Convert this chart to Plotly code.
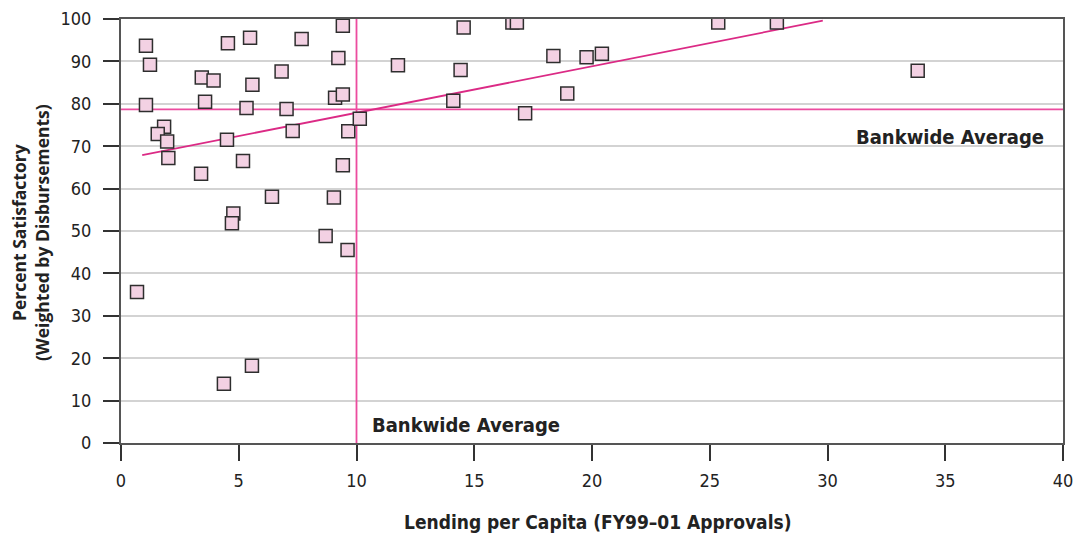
import plotly.graph_objects as go

# Lending per capita (x) and percent satisfactory (y)
lending = [0.68, 1.06, 1.23, 1.06, 1.83, 1.56, 1.96, 2.01, 3.40, 3.43, 3.93, 3.57,
           4.54, 4.50, 4.77, 4.71, 4.37, 5.48, 5.58, 5.33, 5.18, 5.56, 6.82, 7.03,
           7.29, 6.41, 7.67, 9.42, 9.23, 9.09, 9.42, 9.65, 10.14, 9.42, 9.04, 8.69,
           9.62, 11.76, 14.11, 14.42, 14.55, 16.62, 16.81, 17.16, 18.36, 18.95,
           19.77, 20.42, 25.36, 27.85, 33.83]
satisfactory = [35.6, 93.7, 89.2, 79.7, 74.6, 72.9, 71.1, 67.2, 63.5, 86.2, 85.5, 80.5,
                94.3, 71.5, 54.1, 51.8, 14.0, 95.6, 84.5, 79.0, 66.5, 18.2, 87.6, 78.8,
                73.6, 58.1, 95.3, 98.4, 90.8, 81.4, 82.2, 73.5, 76.5, 65.5, 57.9, 48.8,
                45.5, 89.1, 80.7, 88.0, 98.0, 99.2, 99.2, 77.8, 91.3, 82.4, 91.0, 91.8,
                99.2, 99.2, 87.8]

# Fitted trend line end points
trend_x = [0.9, 29.8]
trend_y = [67.9, 99.6]

# Bankwide averages
avg_lending = 10.0
avg_satisfactory = 78.7

x_ticks = [0, 5, 10, 15, 20, 25, 30, 35, 40]
y_ticks = [0, 10, 20, 30, 40, 50, 60, 70, 80, 90, 100]

PINK = "#EC4C9F"
TREND = "#DB2A85"
COND = "DejaVu Sans Condensed, Liberation Sans Narrow, sans-serif"

fig = go.Figure()

fig.add_trace(go.Scatter(
    x=[avg_lending, avg_lending], y=[0, 100], mode="lines",
    line=dict(color=PINK, width=1.8), hoverinfo="skip", showlegend=False))
fig.add_trace(go.Scatter(
    x=[0, 40], y=[avg_satisfactory, avg_satisfactory], mode="lines",
    line=dict(color=PINK, width=1.8), hoverinfo="skip", showlegend=False))
fig.add_trace(go.Scatter(
    x=trend_x, y=trend_y, mode="lines",
    line=dict(color=TREND, width=1.8), hoverinfo="skip", showlegend=False))
fig.add_trace(go.Scatter(
    x=lending, y=satisfactory, mode="markers",
    marker=dict(symbol="square", size=13, color="#F3D1E3",
                line=dict(color="#2E2E2E", width=1.5)),
    showlegend=False))

tick_font = dict(family=COND, size=18, color="#222")

fig.update_xaxes(
    range=[0, 40], tickvals=x_ticks, ticktext=[str(v) for v in x_ticks],
    showgrid=False, zeroline=False, automargin=False,
    showline=True, linecolor="#555", linewidth=2, mirror=True,
    ticks="outside", ticklen=16, tickwidth=1.5, tickcolor="#333",
    tickfont=tick_font, ticklabelstandoff=4)
fig.update_yaxes(
    range=[0, 100], tickvals=y_ticks, ticktext=[str(v) for v in y_ticks],
    showgrid=True, gridcolor="#D3D3D3", gridwidth=1.5, zeroline=False, automargin=False,
    showline=True, linecolor="#555", linewidth=2, mirror=True,
    ticks="outside", ticklen=16, tickwidth=1.5, tickcolor="#333",
    tickfont=tick_font, ticklabelstandoff=8)

label_font = dict(family=COND, size=20, color="#222")

fig.add_annotation(x=14.65, y=4.2, xref="x", yref="y", text="<b>Bankwide Average</b>",
                   showarrow=False, font=label_font, xanchor="center", yanchor="middle")
fig.add_annotation(x=35.2, y=72.2, xref="x", yref="y", text="<b>Bankwide Average</b>",
                   showarrow=False, font=label_font, xanchor="center", yanchor="middle")

fig.add_annotation(x=0.506, y=-0.186, xref="paper", yref="paper",
                   text="<b>Lending per Capita (FY99–01 Approvals)</b>",
                   showarrow=False, font=dict(family=COND, size=19, color="#222"),
                   xanchor="center", yanchor="middle")
fig.add_annotation(x=-0.0966, y=0.495, xref="paper", yref="paper",
                   text="<b>Percent Satisfactory<br>(Weighted by Disbursements)</b>",
                   textangle=-90, showarrow=False,
                   font=dict(family="Open Sans, sans-serif", size=17.5, color="#222"),
                   xanchor="center", yanchor="middle")

fig.update_layout(
    width=1078, height=535,
    margin=dict(l=121, r=15, t=19, b=92),
    plot_bgcolor="white", paper_bgcolor="white",
)

fig.write_html("out.html", config={"displayModeBar": False},
               post_script="document.body.style.margin='0px';document.body.style.padding='0px';")
